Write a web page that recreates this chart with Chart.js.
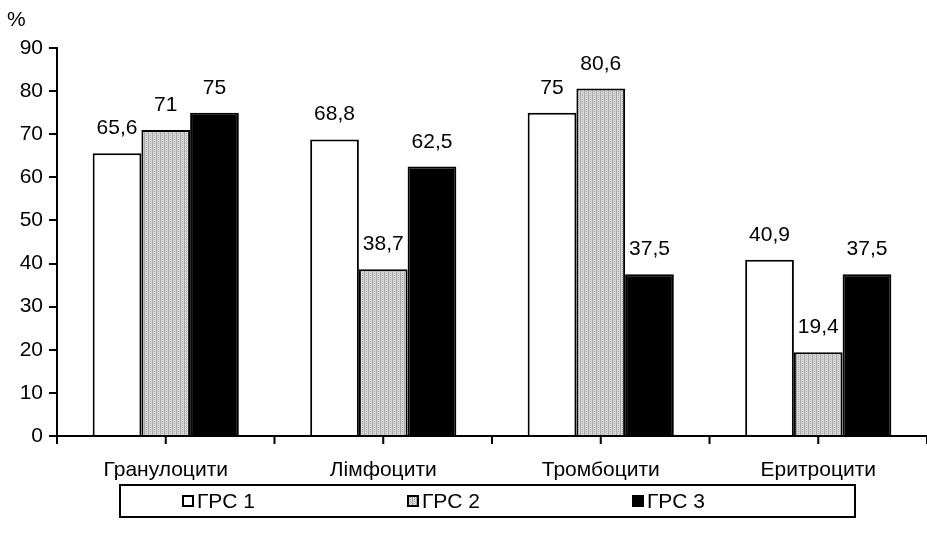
<!DOCTYPE html>
<html>
<head>
<meta charset="utf-8">
<script src="https://cdn.jsdelivr.net/npm/chart.js@4"></script>
<style>
  body { margin: 0; background: #fff; }
  canvas { display: block; }
</style>
</head>
<body>
<canvas id="chart" width="927" height="536"></canvas>
<script>
// ---- data ----
const categories = ["Гранулоцити", "Лімфоцити", "Тромбоцити", "Еритроцити"];
const seriesNames = ["ГРС 1", "ГРС 2", "ГРС 3"];
const grs1 = [65.6, 68.8, 75, 40.9];
const grs2 = [71, 38.7, 80.6, 19.4];
const grs3 = [75, 62.5, 37.5, 37.5];
const yMin = 0, yMax = 90, yStep = 10;
const yUnit = "%";

const FONT = "'Liberation Sans', Arial, sans-serif";
const canvas = document.getElementById("chart");
const ctx = canvas.getContext("2d");

// fine grey hatch used for the second series
function makeHatch() {
    const c = document.createElement("canvas");
    c.width = 4; c.height = 4;
    const g = c.getContext("2d");
    g.fillStyle = "#d8d8d8";
    g.fillRect(0, 0, 4, 4);
    g.fillStyle = "#a8a8a8";
    g.fillRect(0, 0, 1, 4);
    g.fillRect(2, 1, 1, 1);
    g.fillRect(2, 3, 1, 1);
    return ctx.createPattern(c, "repeat");
}
const hatch = makeHatch();
const fills = ["#ffffff", hatch, "#000000"];

const fmt = (v) => String(v).replace(".", ",");

// ---- value labels above the bars ----
const valueLabels = {
    id: "valueLabels",
    afterDatasetsDraw(chart) {
        const c = chart.ctx;
        c.save();
        c.font = "21px " + FONT;
        c.fillStyle = "#000";
        c.textAlign = "center";
        c.textBaseline = "alphabetic";
        chart.data.datasets.forEach((ds, i) => {
            chart.getDatasetMeta(i).data.forEach((bar, j) => {
                c.fillText(fmt(ds.data[j]), bar.x, bar.y - 19);
            });
        });
        c.restore();
    }
};

// ---- x tick marks (boundaries and centres), unit label, boxed legend ----
const extras = {
    id: "extras",
    afterDraw(chart) {
        const c = chart.ctx;
        const xs = chart.scales.x;
        const area = chart.chartArea;
        const half = (xs.getPixelForValue(1) - xs.getPixelForValue(0)) / 2;
        c.save();
        c.strokeStyle = "#000";
        c.lineWidth = 2;
        c.beginPath();
        categories.forEach((_, i) => {
            const px = xs.getPixelForValue(i);
            [px - half, px, px + half].forEach((tx) => {
                c.moveTo(tx, area.bottom);
                c.lineTo(tx, area.bottom + 8);
            });
        });
        c.stroke();

        c.font = "21px " + FONT;
        c.fillStyle = "#000";
        c.textBaseline = "middle";
        c.textAlign = "left";
        c.fillText(yUnit, 7, 20);

        // legend
        c.strokeRect(120, 485, 735, 32);
        const itemX = [182, 407, 632];
        chart.data.datasets.forEach((ds, i) => {
            const x = itemX[i];
            c.fillStyle = ds.backgroundColor;
            c.fillRect(x, 495, 12, 12);
            c.lineWidth = 2;
            c.strokeRect(x + 1, 496, 10, 10);
            c.fillStyle = "#000";
            c.fillText(ds.label, x + 15, 502);
        });
        c.restore();
    }
};

const datasets = [grs1, grs2, grs3].map((d, i) => ({
    label: seriesNames[i],
    data: d,
    backgroundColor: fills[i],
    borderColor: "#000",
    borderWidth: 2,
    borderSkipped: "bottom",
    barPercentage: 1,
    categoryPercentage: 0.672
}));

new Chart(ctx, {
    type: "bar",
    data: { labels: categories, datasets: datasets },
    options: {
        responsive: false,
        animation: false,
        devicePixelRatio: 1,
        layout: { padding: { top: 48, right: 0, bottom: 40, left: 0 } },
        plugins: { legend: { display: false }, tooltip: { enabled: false } },
        scales: {
            x: {
                offset: true,
                grid: { display: false },
                border: { display: true, color: "#000", width: 2 },
                ticks: { color: "#000", font: { family: FONT, size: 21 }, padding: 14, maxRotation: 0 },
                afterFit: (s) => { s.height = 60; }
            },
            y: {
                min: yMin,
                max: yMax,
                ticks: { stepSize: yStep, color: "#000", font: { family: FONT, size: 21 }, padding: 6 },
                grid: { drawOnChartArea: false, drawTicks: true, tickLength: 8, color: "#000", lineWidth: 2 },
                border: { display: true, color: "#000", width: 2 },
                afterFit: (s) => { s.width = 57; }
            }
        }
    },
    plugins: [valueLabels, extras]
});
</script>
</body>
</html>
